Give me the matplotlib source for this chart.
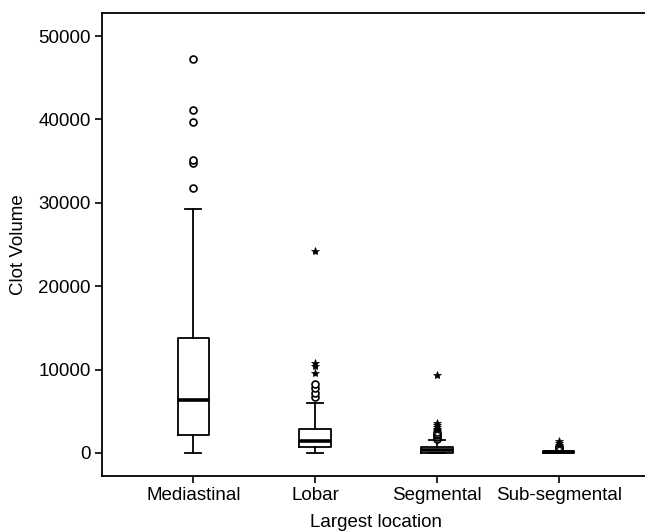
import matplotlib
matplotlib.use("Agg")
import matplotlib.pyplot as plt

plt.rcParams['font.family'] = ['Liberation Sans', 'DejaVu Sans']

categories = ["Mediastinal", "Lobar", "Segmental", "Sub-segmental"]
whislo = [0, 40, 40, 0]
q1 = [2160, 680, 40, 0]
med = [6360, 1440, 300, 100]
q3 = [13790, 2840, 680, 200]
whishi = [29260, 5960, 1560, 280]
mild_outliers = [
    [31770, 34770, 35130, 39730, 41130, 47240],
    [6750, 7160, 7760, 8270],
    [1700, 1880, 2100, 2300, 2500],
    [560, 680, 760],
]
extreme_outliers = [
    [],
    [9560, 10470, 10830, 24260],
    [2700, 2900, 3100, 3300, 3550, 9350],
    [1000, 1200, 1480],
]
yticks = [0, 10000, 20000, 30000, 40000, 50000]

fig = plt.figure(figsize=(6.45, 5.31), dpi=100)
ax = fig.add_axes([102/645, 55/531, 548/645, (476-12.7)/531])

stats = []
for i, c in enumerate(categories):
    stats.append(dict(label=c, whislo=whislo[i], q1=q1[i], med=med[i],
                      q3=q3[i], whishi=whishi[i], fliers=[]))
pos = list(range(1, len(categories) + 1))
ax.bxp(stats, positions=pos, widths=0.26, showfliers=False,
       boxprops=dict(color='black', linewidth=1.3),
       whiskerprops=dict(color='black', linewidth=1.3),
       capprops=dict(color='black', linewidth=1.3),
       medianprops=dict(color='black', linewidth=2.6))

for i in range(len(categories)):
    if mild_outliers[i]:
        ax.plot([pos[i]] * len(mild_outliers[i]), mild_outliers[i], 'o',
                mfc='white', mec='black', ms=5, mew=1.2, linestyle='none')
    if extreme_outliers[i]:
        ax.plot([pos[i]] * len(extreme_outliers[i]), extreme_outliers[i], '*',
                mfc='black', mec='black', ms=6, mew=0.5, linestyle='none')

ax.set_xlim(0.25, 4.75)
ax.set_ylim(-2760, 52800)
ax.set_yticks(yticks)
ax.set_yticklabels([str(v) for v in yticks])
ax.set_xticks(pos)
ax.set_xticklabels(categories)
for s in ax.spines.values():
    s.set_linewidth(1.3)
ax.spines['right'].set_visible(False)
ax.tick_params(direction='out', length=5, width=1.2, labelsize=13.5, pad=3)
ax.set_ylabel("Clot Volume", fontsize=13.5, labelpad=8)
ax.set_xlabel("Largest location", fontsize=13.5, labelpad=7)

fig.savefig("out.png", dpi=100)
